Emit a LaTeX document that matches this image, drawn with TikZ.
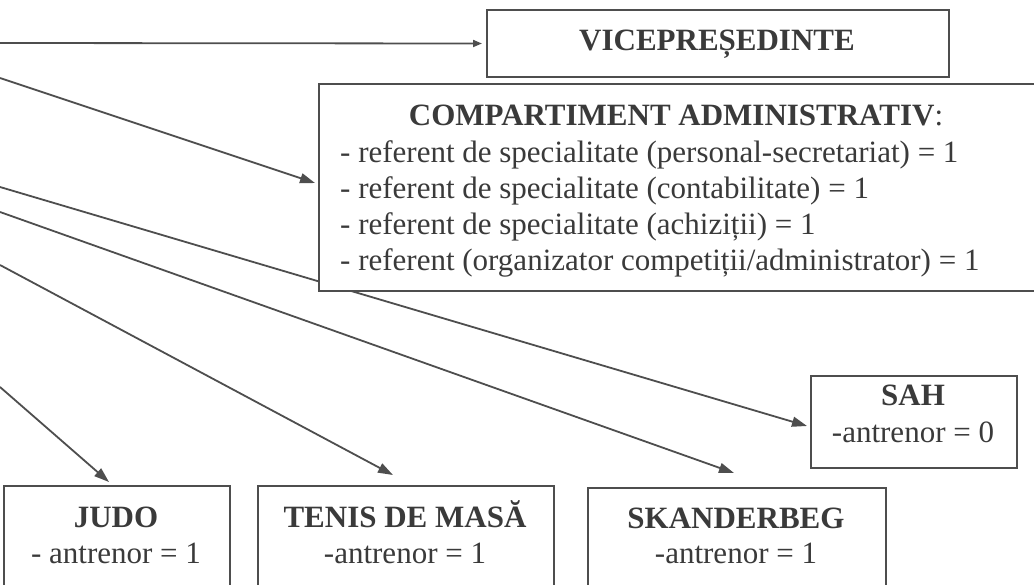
\documentclass[tikz,border=0pt]{standalone}
\usepackage{fontspec}
\setmainfont{Liberation Serif}
\usetikzlibrary{arrows.meta}
\definecolor{ink}{RGB}{58,58,58}
\definecolor{lin}{RGB}{78,78,78}
\newcommand\dfont{\fontsize{31}{36}\selectfont}
\pgfdeclarelayer{bg}
\pgfsetlayers{bg,main}
\begin{document}
\begin{tikzpicture}[x=1pt,y=-1pt,
  box/.style={draw=lin, line width=2pt, fill=white, rectangle, inner sep=0pt},
  txt/.style={text=ink, font=\dfont, inner sep=0pt},
  ttl/.style={text=ink, font=\dfont\bfseries, inner sep=0pt},
  arr/.style={draw=lin, line width=1.8pt, -{Triangle[length=15pt,width=10pt]}},
  sarr/.style={draw=lin, line width=1.8pt, -{Triangle[length=9pt,width=7pt]}}]
\useasboundingbox (0,0) rectangle (1034,584);
\clip (0,0) rectangle (1034,584);
% boxes
\node[box, minimum width=462pt, minimum height=67pt, anchor=north west] (vice) at (486,9) {};
\node[ttl, anchor=base] (viceT) at (717,50) {VICEPREȘEDINTE};
\node[box, minimum width=740pt, minimum height=207pt, anchor=north west] (comp) at (318,83) {};
\node[ttl, anchor=base] (compH) at (676,125) {COMPARTIMENT ADMINISTRATIV\textmd{:}};
\node[txt, anchor=base west] (c1) at (340,162) {- referent de specialitate (personal-secretariat) = 1};
\node[txt, anchor=base west] (c2) at (340,198) {- referent de specialitate (contabilitate) = 1};
\node[txt, anchor=base west] (c3) at (340,234) {- referent de specialitate (achiziții) = 1};
\node[txt, anchor=base west] (c4) at (340,270) {- referent (organizator competiții/administrator) = 1};
\node[box, minimum width=206pt, minimum height=92pt, anchor=north west] (sah) at (810,375) {};
\node[ttl, anchor=base] (sahT) at (913,405) {SAH};
\node[txt, anchor=base] (sahB) at (913,442) {-antrenor = 0};
\node[box, minimum width=226pt, minimum height=130pt, anchor=north west] (judo) at (3,485) {};
\node[ttl, anchor=base] (judoT) at (116,527) {JUDO};
\node[txt, anchor=base] (judoB) at (116,563) {- antrenor = 1};
\node[box, minimum width=296pt, minimum height=130pt, anchor=north west] (tenis) at (257,485) {};
\node[ttl, anchor=base] (tenisT) at (405,527) {TENIS DE MASĂ};
\node[txt, anchor=base] (tenisB) at (405,563) {-antrenor = 1};
\node[box, minimum width=298pt, minimum height=130pt, anchor=north west] (skand) at (587,487) {};
\node[ttl, anchor=base] (skandT) at (736,528) {SKANDERBEG};
\node[txt, anchor=base] (skandB) at (736,563) {-antrenor = 1};
% sources off the left edge
\coordinate (s1) at (0,43);
\coordinate (s2) at (0,78);
\coordinate (s3) at (0,187);
\coordinate (s4) at (0,212);
\coordinate (s5) at (0,265);
\coordinate (s6) at (0,387);
\begin{pgfonlayer}{bg}
\draw[sarr] (s1) -- ([xshift=-4pt]vice.west);
\draw[arr] (s2) -- ([xshift=-3pt,yshift=4.5pt]comp.west);
\draw[arr] (s3) -- ([xshift=-3pt,yshift=-4pt]sah.west);
\draw[arr] (s4) -- ([xshift=-3pt,yshift=14pt]skand.north);
\draw[arr] (s5) -- ([xshift=-13pt,yshift=10pt]tenis.north);
\draw[arr] (s6) -- ([xshift=-8pt,yshift=3pt]judo.north);
\end{pgfonlayer}
\end{tikzpicture}
\end{document}
